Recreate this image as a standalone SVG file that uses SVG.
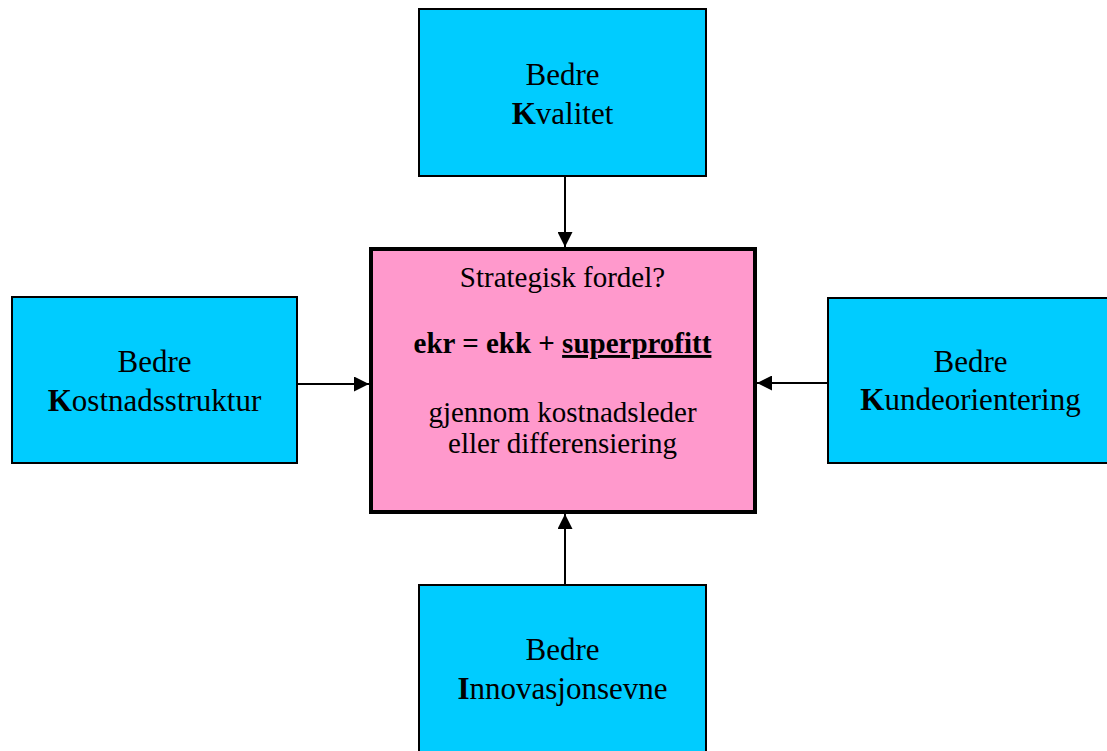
<svg xmlns="http://www.w3.org/2000/svg" width="1107" height="751" viewBox="0 0 1107 751">
  <style>
    .box { fill: #00CCFF; stroke: #000; stroke-width: 2; }
    .core { fill: #FF99CC; stroke: #000; stroke-width: 4; }
    .lbl { font-family: "Liberation Serif", "Times New Roman", serif; font-size: 31px; fill: #000; text-anchor: middle; }
    .mid { font-family: "Liberation Serif", "Times New Roman", serif; font-size: 29px; fill: #000; text-anchor: middle; }
    .b { font-weight: bold; }
    .wire { stroke: #000; stroke-width: 2; fill: none; marker-end: url(#head); }
  </style>
  <defs>
    <marker id="head" markerUnits="userSpaceOnUse" markerWidth="15" markerHeight="15" viewBox="0 0 15 15" refX="15" refY="7.5" orient="auto">
      <path d="M0,0 L15,7.5 L0,15 Z" fill="#000"/>
    </marker>
  </defs>

  <rect width="1107" height="751" fill="#fff"/>

  <g id="connectors">
    <line class="wire" x1="565" y1="177" x2="565" y2="247"/>
    <line class="wire" x1="298" y1="384" x2="369" y2="384"/>
    <line class="wire" x1="827" y1="383" x2="757" y2="383"/>
    <line class="wire" x1="565" y1="584" x2="565" y2="514"/>
  </g>

  <g id="kvalitet">
    <rect class="box" x="419" y="9" width="287" height="167"/>
    <text class="lbl" x="562.5" y="85">Bedre</text>
    <text class="lbl" x="562.5" y="124"><tspan class="b">K</tspan>valitet</text>
  </g>

  <g id="kostnadsstruktur">
    <rect class="box" x="12" y="297" width="285" height="166"/>
    <text class="lbl" x="154.5" y="372">Bedre</text>
    <text class="lbl" x="154.5" y="411"><tspan class="b">K</tspan>ostnadsstruktur</text>
  </g>

  <g id="kundeorientering">
    <rect class="box" x="828" y="298" width="290" height="165"/>
    <text class="lbl" x="970.5" y="372">Bedre</text>
    <text class="lbl" x="970.5" y="410"><tspan class="b">K</tspan>undeorientering</text>
  </g>

  <g id="innovasjonsevne">
    <rect class="box" x="419" y="585" width="287" height="200"/>
    <text class="lbl" x="562.5" y="660">Bedre</text>
    <text class="lbl" x="562.5" y="699"><tspan class="b">I</tspan>nnovasjonsevne</text>
  </g>

  <g id="fordel">
    <rect class="core" x="371" y="249" width="384" height="263"/>
    <text class="mid" x="562.5" y="287">Strategisk fordel?</text>
    <text class="mid b" x="562.5" y="353">ekr = ekk + <tspan text-decoration="underline">superprofitt</tspan></text>
    <text class="mid" x="562.5" y="422">gjennom kostnadsleder</text>
    <text class="mid" x="562.5" y="453">eller differensiering</text>
  </g>
</svg>
